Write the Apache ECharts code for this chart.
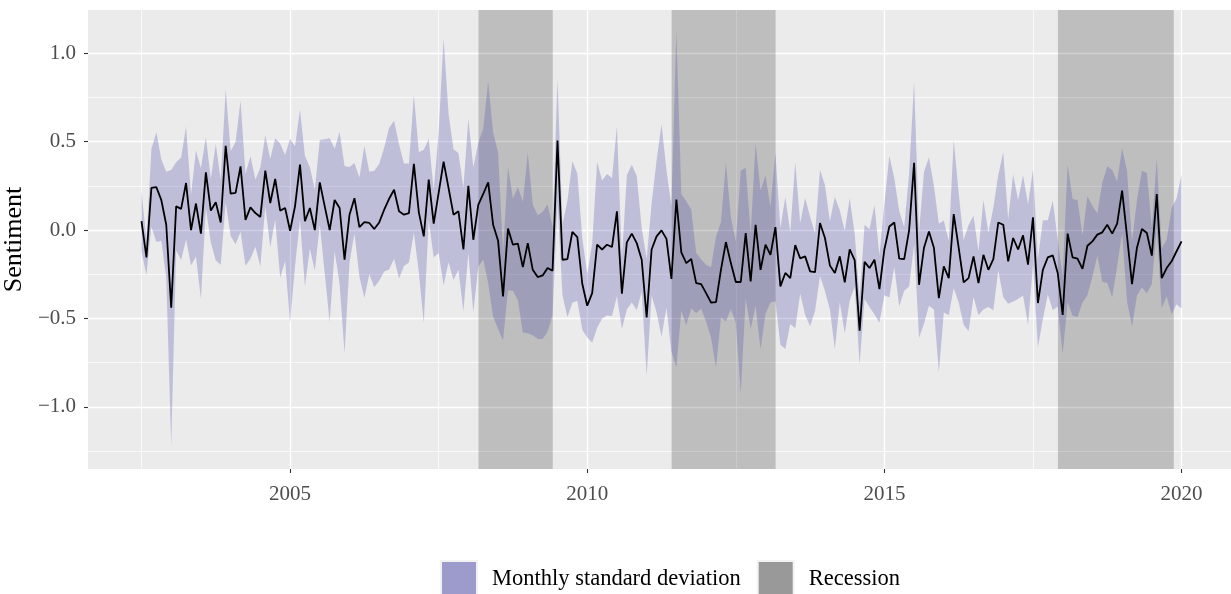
<!DOCTYPE html>
<html>
<head>
<meta charset="utf-8">
<script src="https://cdn.jsdelivr.net/npm/echarts@6/dist/echarts.min.js"></script>
<style>
  html, body { margin: 0; padding: 0; background: #fff; }
  #chart { width: 1231px; height: 594px; }
</style>
</head>
<body>
<div id="chart"></div>
<script>
// monthly series, first month July 2002, last month January 2020
var firstYear = 2002
var firstMonth = 7

// mean monthly sentiment
var sentiment = [
  0.05, -0.155, 0.238, 0.243, 0.17, 0.03, -0.44, 0.134, 0.12, 0.266, 0.0, 0.15,
  -0.02, 0.326, 0.11, 0.157, 0.043, 0.477, 0.206, 0.21, 0.36, 0.058, 0.128, 0.096,
  0.074, 0.336, 0.153, 0.289, 0.11, 0.125, -0.004, 0.134, 0.37, 0.05, 0.125, 0.0,
  0.27, 0.134, 0.0, 0.17, 0.125, -0.168, 0.087, 0.18, 0.017, 0.045, 0.04, 0.006,
  0.043, 0.115, 0.177, 0.228, 0.106, 0.087, 0.096, 0.375, 0.1, -0.036, 0.285, 0.036,
  0.21, 0.387, 0.238, 0.087, 0.106, -0.11, 0.25, -0.055, 0.143, 0.204, 0.27, 0.03,
  -0.06, -0.375, 0.008, -0.083, -0.077, -0.21, -0.074, -0.225, -0.266, -0.257, -0.215, -0.23,
  0.506, -0.168, -0.164, -0.011, -0.04, -0.304, -0.428, -0.357, -0.083, -0.11, -0.083, -0.096,
  0.106, -0.36, -0.07, -0.02, -0.074, -0.168, -0.494, -0.11, -0.036, -0.002, -0.05, -0.277,
  0.172, -0.126, -0.187, -0.164, -0.3, -0.306, -0.357, -0.41, -0.408, -0.225, -0.068, -0.187,
  -0.294, -0.294, -0.017, -0.29, 0.03, -0.225, -0.083, -0.14, 0.017, -0.319, -0.243, -0.272,
  -0.085, -0.16, -0.149, -0.234, -0.238, 0.04, -0.045, -0.2, -0.243, -0.149, -0.296, -0.11,
  -0.17, -0.57, -0.18, -0.215, -0.168, -0.334, -0.11, 0.02, 0.043, -0.162, -0.164, 0.0,
  0.38, -0.31, -0.1, -0.008, -0.1, -0.385, -0.206, -0.272, 0.09, -0.1, -0.296, -0.272,
  -0.149, -0.3, -0.14, -0.225, -0.164, 0.043, 0.03, -0.177, -0.045, -0.11, -0.03, -0.196,
  0.072, -0.413, -0.225, -0.155, -0.143, -0.243, -0.48, -0.02, -0.155, -0.162, -0.22, -0.089,
  -0.064, -0.026, -0.013, 0.03, -0.02, 0.036, 0.223, -0.036, -0.306, -0.1, 0.006, -0.017,
  -0.145, 0.204, -0.272, -0.215, -0.177, -0.12, -0.064
]

// monthly standard deviation
var monthlySd = [
  0.17, 0.1, 0.22, 0.31, 0.23, 0.3, 0.78, 0.25, 0.29, 0.32, 0.2, 0.3,
  0.37, 0.2, 0.18, 0.33, 0.24, 0.32, 0.24, 0.29, 0.37, 0.26, 0.29, 0.19,
  0.28, 0.2, 0.25, 0.23, 0.38, 0.3, 0.52, 0.34, 0.31, 0.37, 0.23, 0.23,
  0.24, 0.38, 0.52, 0.29, 0.43, 0.53, 0.27, 0.2, 0.28, 0.43, 0.29, 0.33,
  0.33, 0.35, 0.4, 0.39, 0.38, 0.29, 0.28, 0.39, 0.34, 0.49, 0.23, 0.19,
  0.34, 0.7, 0.42, 0.37, 0.33, 0.35, 0.38, 0.41, 0.35, 0.37, 0.57, 0.52,
  0.5, 0.25, 0.35, 0.26, 0.32, 0.37, 0.51, 0.37, 0.35, 0.36, 0.36, 0.25,
  0.35, 0.2, 0.33, 0.4, 0.36, 0.26, 0.18, 0.28, 0.47, 0.39, 0.4, 0.39,
  0.48, 0.2, 0.38, 0.39, 0.38, 0.18, 0.33, 0.26, 0.43, 0.6, 0.39, 0.41,
  0.95, 0.33, 0.35, 0.28, 0.17, 0.14, 0.16, 0.2, 0.37, 0.27, 0.45, 0.26,
  0.23, 0.63, 0.37, 0.27, 0.46, 0.45, 0.39, 0.27, 0.42, 0.33, 0.43, 0.26,
  0.47, 0.2, 0.33, 0.31, 0.22, 0.3, 0.3, 0.25, 0.43, 0.26, 0.29, 0.29,
  0.15, 0.19, 0.21, 0.22, 0.31, 0.19, 0.26, 0.4, 0.25, 0.27, 0.18, 0.32,
  0.46, 0.3, 0.43, 0.42, 0.35, 0.42, 0.26, 0.21, 0.42, 0.31, 0.24, 0.3,
  0.23, 0.18, 0.31, 0.21, 0.29, 0.27, 0.41, 0.24, 0.36, 0.28, 0.34, 0.34,
  0.27, 0.25, 0.28, 0.21, 0.31, 0.19, 0.22, 0.39, 0.33, 0.33, 0.19, 0.28,
  0.2, 0.12, 0.28, 0.33, 0.36, 0.24, 0.24, 0.37, 0.24, 0.27, 0.33, 0.34,
  0.16, 0.2, 0.17, 0.16, 0.3, 0.3, 0.38
]

// recession periods, decimal years
var recessions = [
  [2008.17, 2009.42],
  [2011.42, 2013.17],
  [2017.92, 2019.87]
]

var xTicks = [2005, 2010, 2015, 2020]
var xMinorTicks = [2002.5, 2007.5, 2012.5, 2017.5]
var yTicks = [-1.0, -0.5, 0.0, 0.5, 1.0]
var yMinorTicks = [-1.25, -0.75, -0.25, 0.25, 0.75]

var font = 'Liberation Serif'
var xMin = 2001.6
var xMax = 2020.866
var yMin = -1.352
var yMax = 1.245

var months = sentiment.map(function (v, i) {
  return firstYear + (firstMonth - 1 + i) / 12
})
var lineData = months.map(function (x, i) { return [x, sentiment[i]] })
var bandData = months.map(function (x, i) {
  return [x, sentiment[i] - monthlySd[i], sentiment[i] + monthlySd[i]]
})

// ribbon drawn as one polygon: upper edge forward, lower edge back
function renderBand (params, api) {
  if (params.dataIndex !== 0) return null
  var pts = []
  for (var i = 0; i < bandData.length; i++) {
    pts.push(api.coord([bandData[i][0], bandData[i][2]]))
  }
  for (var j = bandData.length - 1; j >= 0; j--) {
    pts.push(api.coord([bandData[j][0], bandData[j][1]]))
  }
  return {
    type: 'polygon',
    shape: { points: pts },
    style: { fill: 'rgba(77, 75, 171, 0.28)', stroke: null }
  }
}

var chart = echarts.init(document.getElementById('chart'))

var option = {
  animation: false,
  backgroundColor: '#ffffff',
  grid: {
    left: 88,
    top: 10,
    width: 1145,
    height: 459,
    outerBoundsMode: 'none',
    show: true,
    backgroundColor: '#EBEBEB',
    borderWidth: 0
  },
  xAxis: [
    {
      type: 'value',
      min: xMin,
      max: xMax,
      axisLine: { show: false, onZero: false },
      axisTick: { show: true, customValues: xTicks, length: 4, lineStyle: { color: '#333333', width: 1.1 } },
      axisLabel: {
        customValues: xTicks,
        margin: 15,
        color: '#4D4D4D',
        fontFamily: font,
        fontSize: 21,
        formatter: function (v) { return String(Math.round(v)) }
      },
      splitLine: { show: true, lineStyle: { color: '#FFFFFF', width: 1.4 } }
    },
    {
      type: 'value',
      min: xMin,
      max: xMax,
      position: 'bottom',
      axisLine: { show: false, onZero: false },
      axisTick: { show: false, customValues: xMinorTicks },
      axisLabel: { show: false, customValues: xMinorTicks },
      splitLine: { show: true, lineStyle: { color: '#FFFFFF', width: 0.7 } }
    }
  ],
  yAxis: [
    {
      type: 'value',
      min: yMin,
      max: yMax,
      name: 'Sentiment',
      nameLocation: 'middle',
      nameGap: 58,
      nameTextStyle: { color: '#000000', fontFamily: font, fontSize: 26 },
      axisLine: { show: false, onZero: false },
      axisTick: { show: true, customValues: yTicks, length: 4, lineStyle: { color: '#333333', width: 1.1 } },
      axisLabel: {
        customValues: yTicks,
        margin: 12,
        color: '#4D4D4D',
        fontFamily: font,
        fontSize: 21,
        formatter: function (v) { return v.toFixed(1).replace('-', '\u2212') }
      },
      splitLine: { show: true, lineStyle: { color: '#FFFFFF', width: 1.4 } }
    },
    {
      type: 'value',
      min: yMin,
      max: yMax,
      position: 'left',
      axisLine: { show: false, onZero: false },
      axisTick: { show: false, customValues: yMinorTicks },
      axisLabel: { show: false, customValues: yMinorTicks },
      splitLine: { show: true, lineStyle: { color: '#FFFFFF', width: 0.7 } }
    }
  ],
  legend: {
    left: 435,
    top: 555,
    itemWidth: 36,
    itemHeight: 36,
    itemGap: 16,
    icon: 'rect',
    textStyle: { color: '#000000', fontFamily: font, fontSize: 22.5, padding: [0, 0, 0, 10] },
    data: [
      { name: 'Monthly standard deviation', itemStyle: { color: '#9C9BCB', borderColor: '#F2F2F2', borderWidth: 2 } },
      { name: 'Recession', itemStyle: { color: '#999999', borderColor: '#F2F2F2', borderWidth: 2 } }
    ]
  },
  series: [
    {
      name: 'Monthly standard deviation',
      type: 'custom',
      renderItem: renderBand,
      data: bandData,
      encode: { x: 0, y: [1, 2] },
      itemStyle: { color: '#9C9BCB' },
      silent: true,
      z: 2
    },
    {
      name: 'Recession',
      type: 'line',
      data: [],
      itemStyle: { color: '#999999' },
      markArea: {
        silent: true,
        itemStyle: { color: 'rgba(0, 0, 0, 0.19)' },
        data: recessions.map(function (r) {
          return [{ xAxis: r[0], yAxis: yMin }, { xAxis: r[1], yAxis: yMax }]
        })
      },
      z: 3
    },
    {
      name: 'Sentiment',
      type: 'line',
      data: lineData,
      symbol: 'none',
      lineStyle: { color: '#000000', width: 1.8 },
      z: 4
    }
  ]
}

chart.setOption(option)
</script>
</body>
</html>
